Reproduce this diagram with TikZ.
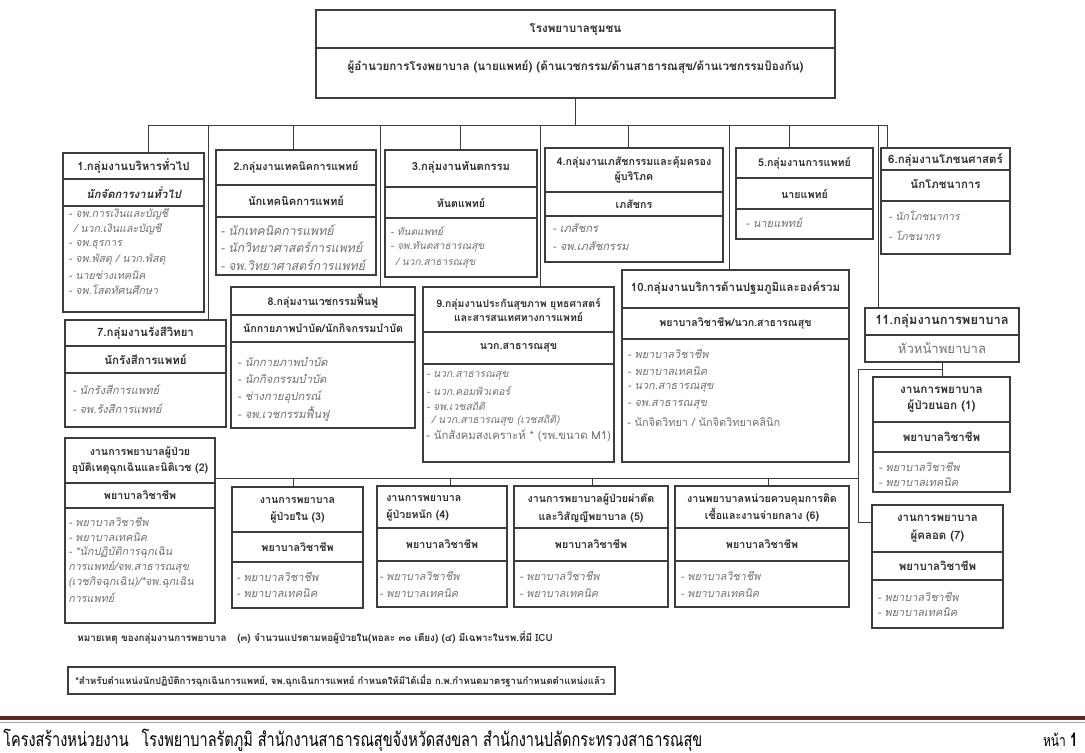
\documentclass[tikz,border=0pt]{standalone}
\usepackage{fontspec}
\setmainfont{Loma}[Script=Thai]
\newfontfamily\footfont{Loma}[Script=Thai,FakeStretch=0.75]
\usetikzlibrary{fit}
\definecolor{ink}{HTML}{2E2E2E}
\definecolor{itemc}{HTML}{707070}
\definecolor{edgec}{HTML}{3C3C3C}
\definecolor{footred}{HTML}{622423}
\tikzset{
  box/.style={draw=edgec,line width=0.9pt,inner sep=0pt,outer sep=0pt},
  divl/.style={draw=edgec,line width=0.9pt},
  conn/.style={draw=edgec,line width=0.75pt},
  hd/.style={font=\fontsize{8}{11.5}\selectfont\bfseries,text=ink,inner sep=0pt,align=center},
  hdl/.style={hd,align=left,anchor=west},
  sub/.style={font=\fontsize{8}{11}\selectfont,text=itemc,inner sep=0pt},
  li/.style={text=itemc,inner sep=0pt,anchor=west},
  note/.style={font=\fontsize{7}{9}\selectfont\bfseries,text=ink,inner sep=0pt,anchor=west},
}
\newcommand\fs[1]{\fontsize{#1}{1.35\dimexpr#1pt\relax}\selectfont\bfseries}
\newcommand\obox[5]{\node[box,fit={(#2,#3) (#4,#5)}] (#1) {};}
\newcommand\dv[2]{\coordinate (#1-d#2) at (0,#2); \draw[divl] (#1.west |- #1-d#2) -- (#1.east |- #1-d#2);}
\newcommand\items[6]{\foreach \t [count=\i] in {#6}{\pgfmathsetmacro\yy{#3+(\i-1)*#4}\node[li,font=\fontsize{#5}{10}\selectfont\itshape] (#1-\i) at (#2,\yy) {\t};}}
\begin{document}
\begin{tikzpicture}[x=0.75pt,y=-0.75pt]
\useasboundingbox (0,0) rectangle (1085,753);
\fill[white] (0,0) rectangle (1085,753);

% ---------- top box
\obox{top}{316}{10}{835}{98}\dv{top}{48}
\node[hd,font=\fs{8.75}] (topt) at (575.5,30) {โรงพยาบาลชุมชน};
\node[hd,font=\fs{8.75}] (tops) at (575.5,67) {ผู้อำนวยการโรงพยาบาล (นายแพทย์) (ด้านเวชกรรม/ด้านสาธารณสุข/ด้านเวชกรรมป้องกัน)};

% ---------- group boxes
\obox{b1}{63}{153}{204}{312}\dv{b1}{179}\dv{b1}{206}
\node[hd,font=\fs{8.6}] (b1t) at (133.5,166) {1.กลุ่มงานบริหารทั่วไป};
\node[hd,font=\fs{8.5}\itshape] (b1r) at (133.5,192.5) {นักจัดการงานทั่วไป};
\items{b1}{68}{214}{15.2}{8}{{- จพ.การเงินและบัญชี},{\hspace*{4pt}/ นวก.เงินและบัญชี},{- จพ.ธุรการ},{- จพ.พัสดุ / นวก.พัสดุ},{- นายช่างเทคนิค},{- จพ.โสตทัศนศึกษา}}

\obox{b2}{216}{150}{376}{275}\dv{b2}{185}\dv{b2}{217}
\node[hd] (b2t) at (296,167.5) {2.กลุ่มงานเทคนิคการแพทย์};
\node[hd,font=\fs{8.4}] (b2r) at (296,201) {นักเทคนิคการแพทย์};
\items{b2}{220}{230}{17.5}{9.2}{{- นักเทคนิคการแพทย์},{- นักวิทยาศาสตร์การแพทย์},{- จพ.วิทยาศาสตร์การแพทย์}}

\obox{b3}{385}{150}{537}{277}\dv{b3}{187}\dv{b3}{218}
\node[hd,font=\fs{8.4}] (b3t) at (461,167) {3.กลุ่มงานทันตกรรม};
\node[hd] (b3r) at (461,202.5) {ทันตแพทย์};
\items{b3}{390}{231}{16}{7.6}{{- ทันตแพทย์},{- จพ.ทันตสาธารณสุข},{\hspace*{4pt}/ นวก.สาธารณสุข}}

\obox{b4}{545}{148}{723}{262}\dv{b4}{192}\dv{b4}{216}
\node[hd] (b4t) at (634,170) {4.กลุ่มงานเภสัชกรรมและคุ้มครอง\\ผู้บริโภค};
\node[hd] (b4r) at (634,204) {เภสัชกร};
\items{b4}{552}{228}{18}{8.4}{{- เภสัชกร},{- จพ.เภสัชกรรม}}

\obox{b5}{736}{148}{873}{239}\dv{b5}{178}\dv{b5}{209}
\node[hd] (b5t) at (804.5,163) {5.กลุ่มงานการแพทย์};
\node[hd] (b5r) at (804.5,193.5) {นายแพทย์};
\items{b5}{745}{223}{16}{8.4}{{- นายแพทย์}}

\obox{b6}{881}{148}{1010}{254}\dv{b6}{170}\dv{b6}{201}
\node[hd,font=\fs{8.6}] (b6t) at (945.5,160) {6.กลุ่มงานโภชนศาสตร์};
\node[hd,font=\fs{8.6}] (b6r) at (945.5,184) {นักโภชนาการ};
\items{b6}{888}{216}{20}{7.9}{{- นักโภชนาการ},{- โภชนากร}}

\obox{b7}{65}{320}{226}{427}\dv{b7}{346}\dv{b7}{373}
\node[hd,font=\fs{8.6}] (b7t) at (145.5,333) {7.กลุ่มงานรังสีวิทยา};
\node[hd,font=\fs{8.6}] (b7r) at (145.5,359.5) {นักรังสีการแพทย์};
\items{b7}{72}{390}{19}{8.3}{{- นักรังสีการแพทย์},{- จพ.รังสีการแพทย์}}

\obox{b8}{231}{287}{415}{428}\dv{b8}{315}\dv{b8}{342}
\node[hd] (b8t) at (323,301) {8.กลุ่มงานเวชกรรมฟื้นฟู};
\node[hd] (b8r) at (323,328.5) {นักกายภาพบำบัด/นักกิจกรรมบำบัด};
\items{b8}{237}{362}{17.3}{8.4}{{- นักกายภาพบำบัด},{- นักกิจกรรมบำบัด},{- ช่างกายอุปกรณ์},{- จพ.เวชกรรมฟื้นฟู}}

\obox{b9}{423}{287}{614}{462}\dv{b9}{332}\dv{b9}{364}
\node[hd,font=\fs{7.8}] (b9t) at (518.5,309.5) {9.กลุ่มงานประกันสุขภาพ ยุทธศาสตร์\\และสารสนเทศทางการแพทย์};
\node[hd] (b9r) at (518.5,348) {นวก.สาธารณสุข};
\items{b9}{426}{376}{15}{7.8}{{- นวก.สาธารณสุข},{- นวก.คอมพิวเตอร์},{- จพ.เวชสถิติ},{\hspace*{4pt}/ นวก.สาธารณสุข (เวชสถิติ)},{\upshape\fontsize{8.5}{10}\selectfont - นักสังคมสงเคราะห์ * (รพ.ขนาด M1)}}

\obox{b10}{622}{270}{849}{462}\dv{b10}{308}\dv{b10}{339}
\node[hd,font=\fs{8.6}] (b10t) at (735.5,288) {10.กลุ่มงานบริการด้านปฐมภูมิและองค์รวม};
\node[hd] (b10r) at (735.5,323.5) {พยาบาลวิชาชีพ/นวก.สาธารณสุข};
\items{b10}{627}{354}{17}{8.2}{{- พยาบาลวิชาชีพ},{- พยาบาลเทคนิค},{- นวก.สาธารณสุข},{- จพ.สาธารณสุข},{\upshape - นักจิตวิทยา / นักจิตวิทยาคลินิก}}

\obox{b11}{865}{308}{1019}{362}\dv{b11}{335}
\node[hd,font=\fs{9.7}] (b11t) at (942,321.5) {11.กลุ่มงานการพยาบาล};
\node[sub,font=\fontsize{9.8}{12}\selectfont] (b11s) at (942,348.5) {หัวหน้าพยาบาล};

% ---------- nursing units
\obox{n1}{873}{377}{1010}{492}\dv{n1}{422}\dv{n1}{452}
\node[hd,font=\fs{8.8}] (n1t) at (941.5,400) {งานการพยาบาล\\ผู้ป่วยนอก (1)};
\node[hd,font=\fs{8.6}] (n1r) at (941.5,437) {พยาบาลวิชาชีพ};
\items{n1}{878}{467}{15}{8.2}{{- พยาบาลวิชาชีพ},{- พยาบาลเทคนิค}}

\obox{n7}{872}{505}{1003}{628}\dv{n7}{552}\dv{n7}{580}
\node[hd,font=\fontsize{8.6}{13.5}\selectfont\bfseries] (n7t) at (937.5,529) {งานการพยาบาล\\ผู้คลอด (7)};
\node[hd,font=\fs{8.6}] (n7r) at (937.5,566) {พยาบาลวิชาชีพ};
\items{n7}{877}{597}{15}{8.2}{{- พยาบาลวิชาชีพ},{- พยาบาลเทคนิค}}

\obox{n2}{65}{438}{215}{623}\dv{n2}{483}\dv{n2}{508}
\node[hd] (n2t) at (140,460.5) {งานการพยาบาลผู้ป่วย\\อุบัติเหตุฉุกเฉินและนิติเวช (2)};
\node[hd] (n2r) at (140,495.5) {พยาบาลวิชาชีพ};
\items{n2}{68}{522}{15.2}{8.1}{{- พยาบาลวิชาชีพ},{- พยาบาลเทคนิค},{- *นักปฏิบัติการฉุกเฉิน},{การแพทย์/จพ.สาธารณสุข},{(เวชกิจฉุกเฉิน)/*จพ.ฉุกเฉิน},{การแพทย์}}

\obox{n3}{232}{487}{363}{608}\dv{n3}{532}\dv{n3}{562}
\node[hd,font=\fontsize{8}{13}\selectfont\bfseries] (n3t) at (297.5,510) {งานการพยาบาล\\ผู้ป่วยใน (3)};
\node[hd] (n3r) at (297.5,547) {พยาบาลวิชาชีพ};
\items{n3}{236}{577}{16}{8.3}{{- พยาบาลวิชาชีพ},{- พยาบาลเทคนิค}}

\obox{n4}{377}{486}{507}{607}\dv{n4}{528}\dv{n4}{561}
\node[hdl,font=\fontsize{8}{13}\selectfont\bfseries] (n4t) at (386,508) {งานการพยาบาล\\ผู้ป่วยหนัก (4)};
\node[hd] (n4r) at (442,544.5) {พยาบาลวิชาชีพ};
\items{n4}{379}{576}{17}{8.1}{{- พยาบาลวิชาชีพ},{- พยาบาลเทคนิค}}

\obox{n5}{514}{486}{668}{607}\dv{n5}{528}\dv{n5}{561}
\node[hd,font=\fontsize{8}{13}\selectfont\bfseries] (n5t) at (591,508) {งานการพยาบาลผู้ป่วยผ่าตัด\\และวิสัญญีพยาบาล (5)};
\node[hd] (n5r) at (591,544.5) {พยาบาลวิชาชีพ};
\items{n5}{519}{576}{17}{8.1}{{- พยาบาลวิชาชีพ},{- พยาบาลเทคนิค}}

\obox{n6}{675}{486}{849}{607}\dv{n6}{528}\dv{n6}{561}
\node[hd,font=\fontsize{8}{13}\selectfont\bfseries] (n6t) at (762,508) {งานพยาบาลหน่วยควบคุมการติด\\เชื้อและงานจ่ายกลาง (6)};
\node[hd] (n6r) at (762,544.5) {พยาบาลวิชาชีพ};
\items{n6}{680}{576}{17}{8.1}{{- พยาบาลวิชาชีพ},{- พยาบาลเทคนิค}}

% ---------- connectors: director to groups
\coordinate (busL) at (148,125);
\coordinate (busR) at (887,125);
\draw[conn] (top.south) -- (top.south |- busL);
\draw[conn] (busL) -- (busR);
\coordinate (d1) at (148,125);  \draw[conn] (d1) -- (d1 |- b1.north);
\coordinate (d7) at (208,125);  \draw[conn] (d7) -- (d7 |- b7.north);
\coordinate (d2) at (293,125);  \draw[conn] (d2) -- (d2 |- b2.north);
\coordinate (d8) at (380,125);  \draw[conn] (d8) -- (d8 |- b8.north);
\coordinate (d3) at (460,125);  \draw[conn] (d3) -- (d3 |- b3.north);
\coordinate (d9) at (540,125);  \draw[conn] (d9) -- (d9 |- b9.north);
\coordinate (d4) at (628,125);  \draw[conn] (d4) -- (d4 |- b4.north);
\coordinate (d10) at (729,125); \draw[conn] (d10) -- (d10 |- b10.north);
\coordinate (d5) at (789,125);  \draw[conn] (d5) -- (d5 |- b5.north);
\coordinate (d11) at (878,125); \draw[conn] (d11) -- (d11 |- b11.north);
\coordinate (d6) at (887,125);  \draw[conn] (d6) -- (d6 |- b6.north);

% ---------- connectors: nursing
\coordinate (j1) at (858,369);
\coordinate (j2) at (858,522);
\coordinate (h1) at (858,478);
\draw[conn] (b11.south) -- (b11.south |- n1.north);
\draw[conn] (b11.south |- j1) -- (j1) -- (j2) -- (j2 -| n7.west);
\draw[conn] (n2.east |- h1) -- (h1);
\coordinate (e3) at (293,478); \draw[conn] (e3) -- (e3 |- n3.north);
\coordinate (e4) at (450,478); \draw[conn] (e4) -- (e4 |- n4.north);
\coordinate (e5) at (592,478); \draw[conn] (e5) -- (e5 |- n5.north);
\coordinate (e6) at (768,478); \draw[conn] (e6) -- (e6 |- n6.north);

% ---------- notes
\node[note,font=\fontsize{7.4}{9}\selectfont\bfseries] (rem) at (77,638) {หมายเหตุ ของกลุ่มงานการพยาบาล\hspace{8pt}(๓) จำนวนแปรตามหอผู้ป่วยใน(หอละ ๓๐ เตียง) (๔) มีเฉพาะในรพ.ที่มี ICU};
\obox{nb}{68}{667}{615}{694}
\node[note,font=\fontsize{7.15}{9}\selectfont\bfseries] (nbt) at (75,680.5) {*สำหรับตำแหน่งนักปฏิบัติการฉุกเฉินการแพทย์, จพ.ฉุกเฉินการแพทย์ กำหนดให้มีได้เมื่อ ก.พ.กำหนดมาตรฐานกำหนดตำแหน่งแล้ว};

% ---------- footer
\coordinate (fl) at (0,718);
\coordinate (fr) at (1085,718);
\draw[footred,line width=3.2pt] (fl) -- (fr);
\draw[footred!45,line width=0.8pt] ([yshift=-3.6pt]fl) -- ([yshift=-3.6pt]fr);
\node[inner sep=0pt,anchor=west,font=\footfont\fontsize{14.5}{16}\selectfont] (foot) at (3,740) {โครงสร้างหน่วยงาน\hspace{6pt} โรงพยาบาลรัตภูมิ สำนักงานสาธารณสุขจังหวัดสงขลา สำนักงานปลัดกระทรวงสาธารณสุข};
\node[inner sep=0pt,anchor=east,font=\footfont\fontsize{12}{14}\selectfont] (page) at (1078,740) {หน้า {\fontsize{14}{14}\selectfont\bfseries 1}};
\end{tikzpicture}
\end{document}
